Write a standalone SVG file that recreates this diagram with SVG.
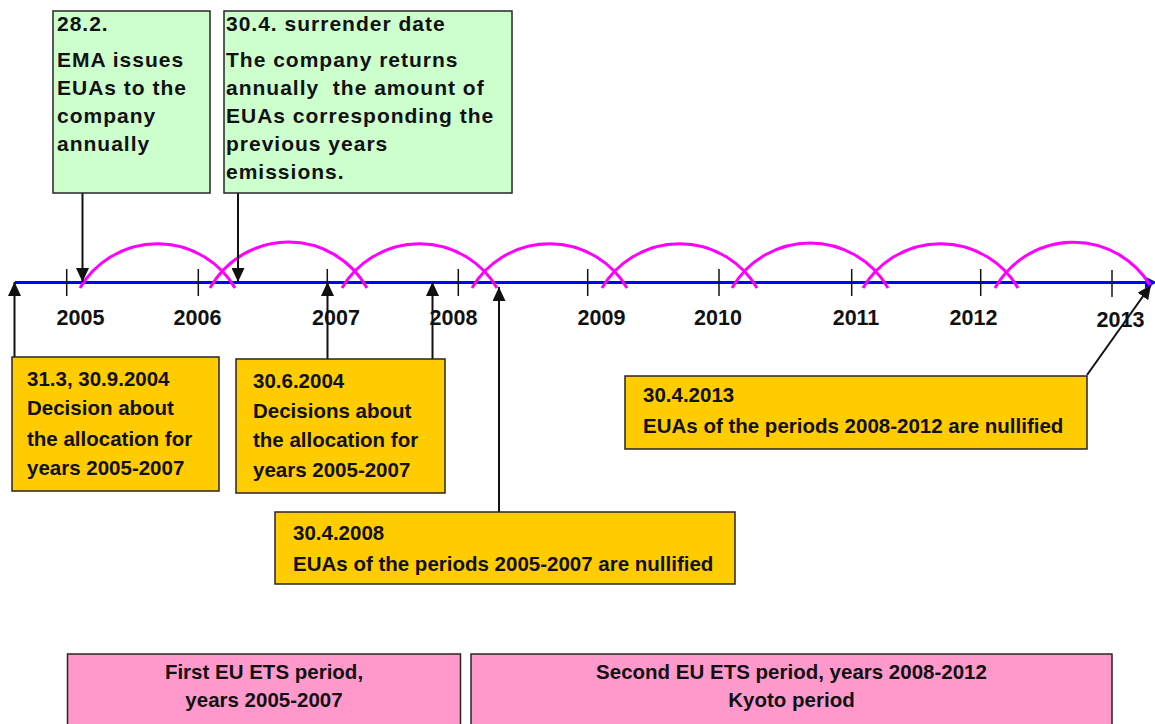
<svg xmlns="http://www.w3.org/2000/svg" width="1155" height="724" viewBox="0 0 1155 724">
<style>
.bg{fill:#ffffff}
.green{fill:#CCFFCC;stroke:#262626;stroke-width:1.5}
.orange{fill:#FFCC00;stroke:#262626;stroke-width:1.5}
.pink{fill:#FF99CC;stroke:#262626;stroke-width:1.5}
.gt{font-family:"Liberation Sans",Arial,sans-serif;font-weight:bold;font-size:21px;letter-spacing:1px;fill:#111111;white-space:pre}
.ot{font-family:"Liberation Sans",Arial,sans-serif;font-weight:bold;font-size:20.5px;fill:#111111}
.pt{font-family:"Liberation Sans",Arial,sans-serif;font-weight:bold;font-size:20.5px;fill:#111111;text-anchor:middle}
.yr{font-family:"Liberation Sans",Arial,sans-serif;font-weight:bold;font-size:21.5px;fill:#111111;text-anchor:middle}
.conn{fill:none;stroke:#111111;stroke-width:2;marker-end:url(#ah)}
.tick{stroke:#111111;stroke-width:1.5}
.arc{fill:none;stroke:#FF00FF;stroke-width:3}
.axis{stroke:#0000FF;stroke-width:3;fill:none}
</style>
<defs>
<marker id="ah" markerUnits="userSpaceOnUse" markerWidth="14" markerHeight="13" refX="14" refY="6.5" orient="auto">
<path d="M0,0 L14,6.5 L0,13 z" fill="#111111"/>
</marker>
</defs>
<rect class="bg" x="0" y="0" width="1155" height="724"/>

<g id="timeline">
<line class="axis" x1="15" y1="282.5" x2="1148" y2="282.5"/>
<polygon points="1145,276.5 1157,282.5 1145,288.5" fill="#0000FF"/>
<g id="ticks">
<line class="tick" x1="66.7" y1="269" x2="66.7" y2="296"/>
<line class="tick" x1="198.3" y1="269" x2="198.3" y2="296"/>
<line class="tick" x1="327.3" y1="269" x2="327.3" y2="296"/>
<line class="tick" x1="458.3" y1="269" x2="458.3" y2="296"/>
<line class="tick" x1="587.7" y1="269" x2="587.7" y2="296"/>
<line class="tick" x1="719" y1="269" x2="719" y2="296"/>
<line class="tick" x1="851.7" y1="269" x2="851.7" y2="296"/>
<line class="tick" x1="980.7" y1="269" x2="980.7" y2="296"/>
<line class="tick" x1="1112" y1="270" x2="1112" y2="297"/>
</g>
<g id="years">
<text class="yr" x="80.5" y="325">2005</text>
<text class="yr" x="197.5" y="325">2006</text>
<text class="yr" x="336" y="325">2007</text>
<text class="yr" x="453.5" y="325">2008</text>
<text class="yr" x="601.5" y="325">2009</text>
<text class="yr" x="718" y="325">2010</text>
<text class="yr" x="856" y="325">2011</text>
<text class="yr" x="973.5" y="325">2012</text>
<text class="yr" x="1120.5" y="327">2013</text>
</g>
<g id="arcs">
<path class="arc" d="M80 288 A90 90 0 0 1 235 288"/>
<path class="arc" d="M210 288 A90 90 0 0 1 367 288"/>
<path class="arc" d="M342 288 A90 90 0 0 1 497 288"/>
<path class="arc" d="M472 288 A90 90 0 0 1 627 288"/>
<path class="arc" d="M602 288 A90 90 0 0 1 757 288"/>
<path class="arc" d="M732 288 A90 90 0 0 1 888 288"/>
<path class="arc" d="M863 288 A90 90 0 0 1 1018 288"/>
<path class="arc" d="M995 288 A90 90 0 0 1 1150 285"/>
</g>
</g>

<g id="connectors">
<path class="conn" d="M82.5 193 V282"/>
<path class="conn" d="M238 193 V282"/>
<path class="conn" d="M14.5 357 V282"/>
<path class="conn" d="M327.5 359 V282"/>
<path class="conn" d="M432.5 359 V282"/>
<path class="conn" d="M499 512 V287"/>
<path class="conn" d="M1087 375 L1151 285"/>
</g>

<g id="node-issue">
<rect class="green" x="53" y="11" width="157" height="182"/>
<text class="gt" x="57" y="31">28.2.</text>
<text class="gt" x="57" y="67">EMA issues</text>
<text class="gt" x="57" y="95">EUAs to the</text>
<text class="gt" x="57" y="123">company</text>
<text class="gt" x="57" y="151">annually</text>
</g>

<g id="node-surrender">
<rect class="green" x="224" y="11" width="288" height="182"/>
<text class="gt" x="226" y="31">30.4. surrender date</text>
<text class="gt" x="226" y="67">The company returns</text>
<text class="gt" x="226" y="95">annually  the amount of</text>
<text class="gt" x="226" y="123">EUAs corresponding the</text>
<text class="gt" x="226" y="151">previous years</text>
<text class="gt" x="226" y="179">emissions.</text>
</g>

<g id="node-decision-2004">
<rect class="orange" x="12" y="357" width="207" height="134"/>
<text class="ot" x="27" y="386">31.3, 30.9.2004</text>
<text class="ot" x="27" y="415">Decision about</text>
<text class="ot" x="27" y="446">the allocation for</text>
<text class="ot" x="27" y="475">years 2005-2007</text>
</g>

<g id="node-decisions-2004">
<rect class="orange" x="236" y="359" width="209" height="134"/>
<text class="ot" x="253" y="388">30.6.2004</text>
<text class="ot" x="253" y="418">Decisions about</text>
<text class="ot" x="253" y="447">the allocation for</text>
<text class="ot" x="253" y="477">years 2005-2007</text>
</g>

<g id="node-nullified-2008">
<rect class="orange" x="275" y="512" width="460" height="72"/>
<text class="ot" x="293" y="540">30.4.2008</text>
<text class="ot" x="293" y="571">EUAs of the periods 2005-2007 are nullified</text>
</g>

<g id="node-nullified-2013">
<rect class="orange" x="625" y="376" width="462" height="73"/>
<text class="ot" x="643" y="402">30.4.2013</text>
<text class="ot" x="643" y="433">EUAs of the periods 2008-2012 are nullified</text>
</g>

<g id="node-first-period">
<rect class="pink" x="67.5" y="654" width="393" height="80"/>
<text class="pt" x="264" y="679">First EU ETS period,</text>
<text class="pt" x="264" y="707">years 2005-2007</text>
</g>

<g id="node-second-period">
<rect class="pink" x="471" y="654" width="641" height="80"/>
<text class="pt" x="791.5" y="679">Second EU ETS period, years 2008-2012</text>
<text class="pt" x="791.5" y="707">Kyoto period</text>
</g>
</svg>
